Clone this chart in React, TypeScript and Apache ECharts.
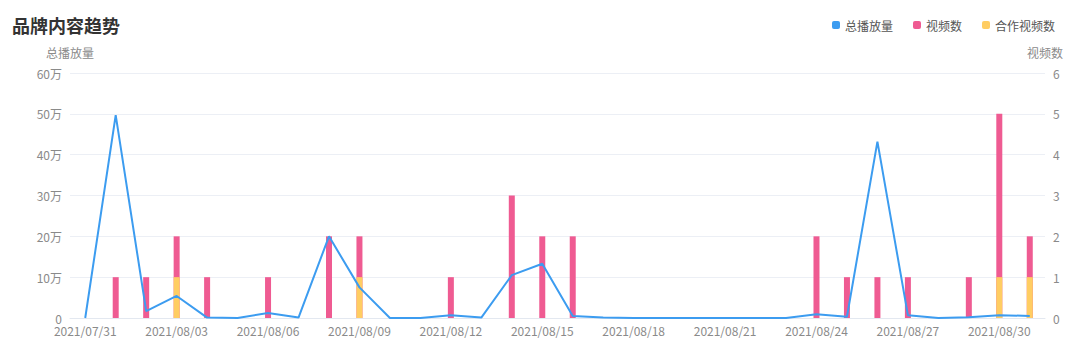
import React, { useEffect, useRef } from "react";
import * as echarts from "echarts";

const dates = [
  "2021/07/31", "2021/08/01", "2021/08/02", "2021/08/03", "2021/08/04", "2021/08/05", "2021/08/06", "2021/08/07",
  "2021/08/08", "2021/08/09", "2021/08/10", "2021/08/11", "2021/08/12", "2021/08/13", "2021/08/14", "2021/08/15",
  "2021/08/16", "2021/08/17", "2021/08/18", "2021/08/19", "2021/08/20", "2021/08/21", "2021/08/22", "2021/08/23",
  "2021/08/24", "2021/08/25", "2021/08/26", "2021/08/27", "2021/08/28", "2021/08/29", "2021/08/30", "2021/08/31",
];

// 总播放量 (plays)
const totalPlays = [
  0, 497000, 17000, 54000, 1000, 0, 12000, 1000,
  200000, 75000, 0, 0, 7000, 1000, 105000, 133000,
  5000, 1000, 0, 0, 0, 0, 0, 0,
  9000, 3000, 432000, 7000, 0, 2000, 7000, 5000,
];

// 视频数
const videoCount = [
  0, 1, 1, 2, 1, 0, 1, 0,
  2, 2, 0, 0, 1, 0, 3, 2,
  2, 0, 0, 0, 0, 0, 0, 0,
  2, 1, 1, 1, 0, 1, 5, 2,
];

// 合作视频数
const coopCount = [
  0, 0, 0, 1, 0, 0, 0, 0,
  0, 1, 0, 0, 0, 0, 0, 0,
  0, 0, 0, 0, 0, 0, 0, 0,
  0, 0, 0, 0, 0, 0, 1, 1,
];

const FONT = "'Noto Sans CJK SC', 'Noto Sans', sans-serif";

export default function App() {
  const ref = useRef<HTMLDivElement>(null);
  useEffect(() => {
    if (!ref.current) return;
    const chart = echarts.init(ref.current, undefined, { renderer: "svg" });
    chart.setOption({
      animation: false,
      textStyle: { fontFamily: FONT },
      title: {
        text: "品牌内容趋势",
        left: 7,
        top: 11,
        textStyle: { fontSize: 18, fontWeight: "bold", color: "#333", fontFamily: FONT },
      },
      legend: {
        right: 20,
        top: 14,
        itemWidth: 8,
        itemHeight: 8,
        itemGap: 20,
        icon: "roundRect",
        textStyle: { fontSize: 12, color: "#555", fontFamily: FONT },
        data: ["总播放量", "视频数", "合作视频数"],
      },
      grid: { left: 70, right: 35, top: 73, bottom: 33 },
      xAxis: {
        type: "category",
        data: dates,
        boundaryGap: true,
        axisLine: { lineStyle: { color: "#e3e8f0" } },
        axisTick: { show: false },
        axisLabel: { interval: 2, color: "#8a8a8a", fontSize: 12, margin: 6, fontFamily: FONT },
      },
      yAxis: [
        {
          type: "value",
          name: "总播放量",
          min: 0,
          max: 600000,
          interval: 100000,
          nameTextStyle: { color: "#8a8a8a", fontSize: 12, fontFamily: FONT },
          axisLine: { show: false },
          axisTick: { show: false },
          axisLabel: {
            color: "#8a8a8a",
            fontSize: 12,
            margin: 8,
            fontFamily: FONT,
            formatter: (v: number) => (v === 0 ? "0" : v / 10000 + "万"),
          },
          splitLine: { lineStyle: { color: "#eceff5" } },
        },
        {
          type: "value",
          name: "视频数",
          min: 0,
          max: 6,
          interval: 1,
          nameTextStyle: { color: "#8a8a8a", fontSize: 12, fontFamily: FONT },
          axisLine: { show: false },
          axisTick: { show: false },
          axisLabel: { color: "#8a8a8a", fontSize: 12, margin: 8, fontFamily: FONT },
          splitLine: { show: false },
        },
      ],
      series: [
        {
          name: "视频数",
          type: "bar",
          yAxisIndex: 1,
          data: videoCount,
          barWidth: 6,
          barGap: "-100%",
          itemStyle: { color: "#ef5b92" },
          z: 2,
        },
        {
          name: "合作视频数",
          type: "bar",
          yAxisIndex: 1,
          data: coopCount,
          barWidth: 6,
          barGap: "-100%",
          itemStyle: { color: "#ffcd62" },
          z: 3,
        },
        {
          name: "总播放量",
          type: "line",
          yAxisIndex: 0,
          data: totalPlays,
          showSymbol: false,
          symbol: "none",
          lineStyle: { color: "#3c9cf0", width: 2 },
          itemStyle: { color: "#3c9cf0" },
          z: 4,
        },
      ],
    });
    return () => chart.dispose();
  }, []);
  return <div ref={ref} style={{ width: 1080, height: 351, position: "absolute", left: 0, top: 0 }} />;
}
